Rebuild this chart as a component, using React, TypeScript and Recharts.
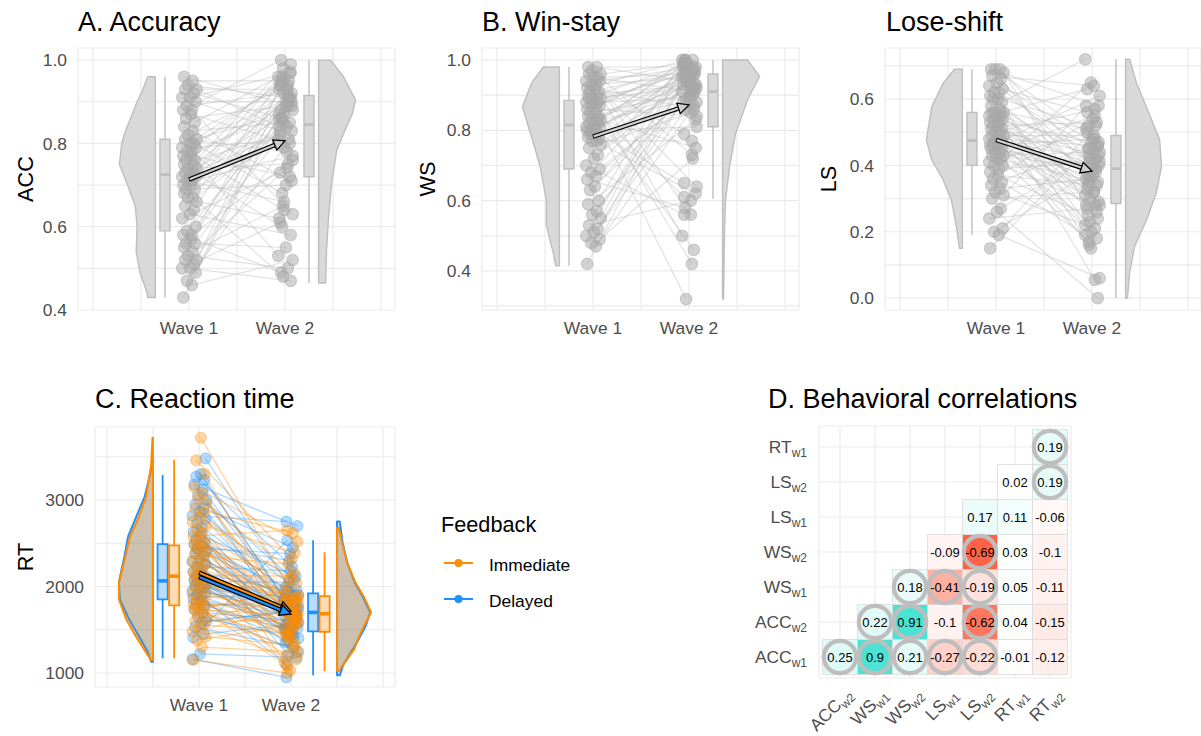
import React from 'react';
import { ComposedChart, XAxis, YAxis, CartesianGrid, Scatter, ReferenceArea, ReferenceLine } from 'recharts';

const FONT = '"Liberation Sans", Arial, Helvetica, sans-serif';
const TICK_COLOR = '#4d4d4d';
const GRID_COLOR = '#ebebeb';
const GRAY_FILL = '#d9d9d9';
const GRAY_LINE = '#bebebe';
const ORANGE = '#ff8c00';
const BLUE = '#1e90ff';

const WAVE_TICKS = [0, 0.5, 1, 1.5, 2, 2.5, 3];
const WAVE_LABELS = ['', '', 'Wave 1', '', 'Wave 2', '', ''];
// horizontal jitter of the raw points around each wave
const JITTER = [-0.06, 0.03, -0.02, 0.07, -0.07, 0.01, 0.05, -0.04, 0.08, -0.01, 0.04, -0.05, 0.06, -0.03, 0.02];

// ---- A. Accuracy
const ACC_W1 = [
  0.43, 0.46, 0.47, 0.49, 0.5, 0.5, 0.51, 0.52, 0.52, 0.53, 0.54, 0.55, 0.56, 0.56, 0.57, 0.58, 0.58, 0.59,
  0.6, 0.62, 0.63, 0.64, 0.65, 0.66, 0.67, 0.67, 0.68, 0.69, 0.69, 0.7, 0.7, 0.71, 0.71, 0.72, 0.72, 0.72,
  0.73, 0.73, 0.74, 0.74, 0.75, 0.75, 0.76, 0.76, 0.77, 0.77, 0.78, 0.78, 0.79, 0.79, 0.8, 0.8, 0.81, 0.81,
  0.82, 0.83, 0.84, 0.85, 0.86, 0.87, 0.88, 0.88, 0.89, 0.9, 0.91, 0.91, 0.92, 0.93, 0.93, 0.94, 0.95, 0.96,
];
const ACC_W2 = [
  0.88, 0.52, 0.79, 0.95, 0.61, 0.47, 0.86, 0.74, 0.93, 0.5, 0.65, 0.9, 0.81, 0.55, 0.97, 0.49, 0.76, 0.87,
  0.91, 0.73, 0.58, 0.96, 0.84, 0.62, 0.89, 0.48, 0.92, 0.8, 0.7, 0.85, 0.94, 0.77, 0.66, 0.91, 0.82, 0.99,
  0.6, 0.93, 0.86, 0.75, 0.98, 0.83, 0.53, 0.9, 0.72, 0.95, 0.88, 0.64, 0.81, 0.94, 0.91, 0.68, 0.78, 0.87,
  0.94, 0.85, 0.71, 0.96, 0.89, 0.8, 1.0, 0.63, 0.92, 0.9, 0.83, 0.97, 0.86, 0.93, 0.84, 0.91, 0.95, 0.89,
];
const ACC_VIOLIN_W1 = [[0.43, 0.08], [0.44, 0.085], [0.49, 0.16], [0.54, 0.2], [0.6, 0.19], [0.65, 0.21], [0.7, 0.29], [0.75, 0.375], [0.8, 0.35], [0.825, 0.32], [0.86, 0.26], [0.9, 0.19], [0.93, 0.13], [0.96, 0.08]];
const ACC_VIOLIN_W2 = [[0.465, 0.073], [0.544, 0.083], [0.624, 0.104], [0.704, 0.135], [0.784, 0.19], [0.84, 0.29], [0.87, 0.35], [0.904, 0.385], [0.96, 0.26], [1.0, 0.125]];
const ACC_BOX_W1 = [0.43, 0.59, 0.725, 0.81, 0.96];
const ACC_BOX_W2 = [0.465, 0.72, 0.845, 0.915, 1.0];
const ACC_MEANS = [0.713, 0.806];
const ACC_TICKS = [0.4, 0.5, 0.6, 0.7, 0.8, 0.9, 1.0];
const ACC_TICK_LABELS = ['0.4', '', '0.6', '', '0.8', '', '1.0'];

// ---- B. Win-stay
const WS_W1 = [
  0.42, 0.47, 0.48, 0.49, 0.5, 0.51, 0.52, 0.53, 0.55, 0.56, 0.57, 0.59, 0.6, 0.63, 0.64, 0.66, 0.67, 0.68,
  0.69, 0.7, 0.72, 0.73, 0.75, 0.76, 0.77, 0.77, 0.78, 0.78, 0.79, 0.79, 0.8, 0.8, 0.8, 0.81, 0.81, 0.81,
  0.82, 0.82, 0.83, 0.83, 0.83, 0.84, 0.84, 0.85, 0.85, 0.86, 0.86, 0.87, 0.87, 0.88, 0.88, 0.88, 0.89, 0.89,
  0.89, 0.9, 0.9, 0.91, 0.91, 0.92, 0.92, 0.93, 0.93, 0.94, 0.94, 0.95, 0.95, 0.96, 0.96, 0.97, 0.98, 0.98,
];
const WS_W2 = [
  0.95, 0.88, 0.97, 0.72, 0.99, 0.93, 0.86, 0.6, 0.98, 0.91, 0.94, 0.83, 1.0, 0.89, 0.96, 0.58, 0.92, 0.97,
  0.9, 0.56, 0.96, 0.99, 0.85, 0.93, 0.77, 0.98, 0.62, 0.91, 0.95, 0.87, 1.0, 0.81, 0.94, 0.97, 0.65, 0.92,
  0.32, 0.96, 0.88, 0.93, 0.99, 0.75, 0.95, 0.9, 0.46, 0.98, 0.84, 0.94, 1.0, 0.61, 0.97, 0.89, 0.92, 0.96,
  0.42, 0.99, 0.93, 0.5, 0.97, 0.86, 1.0, 0.64, 0.95, 0.98, 0.79, 0.91, 0.96, 0.56, 0.99, 0.73, 0.94, 0.98,
];
const WS_VIOLIN_W1 = [[0.415, 0.04], [0.45, 0.0625], [0.53, 0.135], [0.6, 0.135], [0.697, 0.2], [0.79, 0.3], [0.867, 0.385], [0.934, 0.29], [0.98, 0.167]];
const WS_VIOLIN_W2 = [[0.32, 0.01], [0.51, 0.02], [0.6, 0.03], [0.697, 0.073], [0.79, 0.135], [0.887, 0.26], [0.953, 0.385], [1.0, 0.26]];
const WS_BOX_W1 = [0.415, 0.69, 0.815, 0.885, 0.98];
const WS_BOX_W2 = [0.605, 0.81, 0.91, 0.96, 1.0];
const WS_MEANS = [0.782, 0.872];
const WS_TICKS = [0.3, 0.4, 0.5, 0.6, 0.7, 0.8, 0.9, 1.0];
const WS_TICK_LABELS = ['', '0.4', '', '0.6', '', '0.8', '', '1.0'];

// ---- Lose-shift
const LS_W1 = [
  0.15, 0.19, 0.2, 0.21, 0.24, 0.26, 0.27, 0.3, 0.31, 0.32, 0.33, 0.34, 0.35, 0.36, 0.37, 0.38, 0.39, 0.4,
  0.4, 0.41, 0.42, 0.42, 0.43, 0.43, 0.44, 0.44, 0.45, 0.45, 0.46, 0.46, 0.46, 0.47, 0.47, 0.47, 0.48, 0.48,
  0.48, 0.49, 0.49, 0.5, 0.5, 0.51, 0.51, 0.52, 0.52, 0.53, 0.53, 0.54, 0.54, 0.55, 0.55, 0.55, 0.56, 0.56,
  0.56, 0.57, 0.58, 0.59, 0.6, 0.6, 0.61, 0.62, 0.62, 0.63, 0.64, 0.65, 0.66, 0.67, 0.68, 0.69, 0.69, 0.69,
];
const LS_W2 = [
  0.45, 0.06, 0.38, 0.52, 0.27, 0.0, 0.43, 0.32, 0.58, 0.21, 0.36, 0.47, 0.19, 0.54, 0.34, 0.25, 0.41, 0.65,
  0.28, 0.5, 0.35, 0.17, 0.44, 0.39, 0.55, 0.23, 0.4, 0.31, 0.48, 0.26, 0.37, 0.61, 0.2, 0.42, 0.33, 0.46,
  0.16, 0.49, 0.36, 0.57, 0.3, 0.43, 0.22, 0.4, 0.53, 0.34, 0.28, 0.47, 0.38, 0.63, 0.24, 0.45, 0.32, 0.51,
  0.055, 0.42, 0.29, 0.72, 0.37, 0.18, 0.52, 0.44, 0.15, 0.39, 0.56, 0.46, 0.35, 0.64, 0.28, 0.48, 0.41, 0.58,
];
const LS_VIOLIN_W1 = [[0.15, 0.03], [0.216, 0.0625], [0.296, 0.115], [0.356, 0.2], [0.417, 0.32], [0.477, 0.375], [0.576, 0.32], [0.648, 0.2], [0.69, 0.083]];
const LS_VIOLIN_W2 = [[0.0, 0.02], [0.076, 0.042], [0.156, 0.094], [0.236, 0.22], [0.317, 0.32], [0.396, 0.375], [0.477, 0.355], [0.567, 0.23], [0.648, 0.115], [0.72, 0.042]];
const LS_BOX_W1 = [0.19, 0.4, 0.475, 0.56, 0.69];
const LS_BOX_W2 = [0.0, 0.285, 0.39, 0.49, 0.72];
const LS_MEANS = [0.477, 0.383];
const LS_TICKS = [0.0, 0.1, 0.2, 0.3, 0.4, 0.5, 0.6, 0.7];
const LS_TICK_LABELS = ['0.0', '', '0.2', '', '0.4', '', '0.6', ''];

// ---- C. Reaction time (Immediate / Delayed feedback)
const RT_IMM_W1 = [
  1150, 1300, 1380, 1420, 1480, 1520, 1560, 1600, 1640, 1680, 1700, 1730, 1750, 1770, 1790,
  1800, 1830, 1860, 1890, 1920, 1950, 1980, 2000, 2030, 2050, 2070, 2090, 2110, 2130, 2150,
  2170, 2200, 2230, 2260, 2290, 2320, 2350, 2380, 2410, 2440, 2460, 2480, 2500, 2520, 2540,
  2580, 2620, 2660, 2700, 2750, 2800, 2850, 2900, 2960, 3020, 3080, 3150, 3300, 3460, 3720,
];
const RT_IMM_W2 = [
  1000, 1240, 1550, 1320, 1720, 1160, 1460, 1610, 1850, 1280, 1390, 1670, 1940, 1490, 1780,
  1080, 1590, 1420, 1750, 1200, 1630, 2000, 1510, 1820, 1360, 1700, 1880, 1530, 2120, 1660,
  1440, 1800, 1030, 1650, 1910, 1570, 2260, 1730, 1475, 1840, 2080, 1690, 1120, 1860, 1570,
  2650, 1890, 1680, 2390, 1420, 2040, 1760, 2620, 1830, 2160, 1610, 2520, 1710, 2320, 1870,
];
const RT_DEL_W1 = [
  1160, 1220, 1450, 1530, 1600, 1650, 1700, 1740, 1780, 1810, 1840, 1860, 1880, 1900, 1930,
  1950, 1970, 1990, 2010, 2030, 2050, 2060, 2070, 2090, 2110, 2140, 2170, 2200, 2230, 2260,
  2290, 2320, 2350, 2380, 2410, 2440, 2470, 2490, 2510, 2550, 2590, 2630, 2680, 2730, 2780,
  2820, 2860, 2900, 2950, 3000, 3060, 3120, 3180, 3230, 3270, 3300, 1410, 1580, 2440, 3480,
];
const RT_DEL_W2 = [
  950, 1180, 1560, 1300, 1700, 1420, 1610, 1250, 1820, 1490, 1660, 1380, 1900, 1530, 1750,
  1100, 1640, 1470, 1780, 1350, 1690, 2050, 1520, 1860, 1440, 1720, 1950, 1580, 2180, 1620,
  1490, 1830, 1210, 1680, 1990, 1600, 2300, 1760, 1510, 1880, 2120, 1710, 1400, 1920, 1650,
  2750, 1960, 1730, 2450, 1560, 2080, 1800, 2700, 1850, 2230, 1670, 2534, 1740, 2380, 1900,
];
const RT_IMM_VIOLIN_W1 = [[1150, 0.02], [1238, 0.076], [1423, 0.185], [1619, 0.29], [1850, 0.37], [2046, 0.37], [2346, 0.3], [2577, 0.25], [2807, 0.152], [3038, 0.076], [3400, 0.02], [3720, 0.005]];
const RT_DEL_VIOLIN_W1 = [[1130, 0.02], [1250, 0.06], [1420, 0.15], [1620, 0.26], [1850, 0.36], [2050, 0.37], [2350, 0.31], [2580, 0.27], [2810, 0.18], [3040, 0.09], [3300, 0.03], [3480, 0.005]];
const RT_IMM_VIOLIN_W2 = [[1023, 0.02], [1123, 0.087], [1273, 0.185], [1423, 0.24], [1538, 0.29], [1700, 0.37], [1885, 0.29], [2046, 0.2], [2277, 0.11], [2507, 0.054], [2680, 0.02]];
const RT_DEL_VIOLIN_W2 = [[973, 0.03], [1100, 0.07], [1270, 0.17], [1420, 0.25], [1540, 0.31], [1700, 0.36], [1880, 0.28], [2050, 0.19], [2280, 0.11], [2510, 0.06], [2750, 0.03]];
const RT_IMM_BOX_W1 = [1170, 1781, 2119, 2476, 3465];
const RT_DEL_BOX_W1 = [1170, 1850, 2065, 2490, 3290];
const RT_IMM_BOX_W2 = [1023, 1477, 1685, 1888, 2396];
const RT_DEL_BOX_W2 = [973, 1481, 1700, 1920, 2534];
const RT_IMM_MEANS = [2160, 1715];
const RT_DEL_MEANS = [2110, 1680];
const RT_TICKS = [1000, 1500, 2000, 2500, 3000, 3500];
const RT_TICK_LABELS = ['1000', '', '2000', '', '3000', ''];

// ---- D. Behavioral correlations
const CORR_X_MAIN = ['ACC', 'WS', 'WS', 'LS', 'LS', 'RT', 'RT'];
const CORR_X_SUB = ['w2', 'w1', 'w2', 'w1', 'w2', 'w1', 'w2'];
const CORR_Y_MAIN = ['ACC', 'ACC', 'WS', 'WS', 'LS', 'LS', 'RT'];
const CORR_Y_SUB = ['w1', 'w2', 'w1', 'w2', 'w1', 'w2', 'w1'];
// row r holds the correlations with columns r..6
const CORR_VALUES = [
  [0.25, 0.9, 0.21, -0.27, -0.22, -0.01, -0.12],
  [0.22, 0.91, -0.1, -0.62, 0.04, -0.15],
  [0.18, -0.41, -0.19, 0.05, -0.11],
  [-0.09, -0.69, 0.03, -0.1],
  [0.17, 0.11, -0.06],
  [0.02, 0.19],
  [0.19],
];
const CORR_SIG = [
  [1, 1, 1, 1, 1, 0, 0],
  [1, 1, 0, 1, 0, 0],
  [1, 1, 1, 0, 0],
  [0, 1, 0, 0],
  [0, 0, 0],
  [0, 1],
  [1],
];
const CORR_TICKS = [0, 1, 2, 3, 4, 5, 6];

// ---------- helpers
const noShape = () => <g />;

const violinPoints = (profile: number[][], edge: number, side: number) => [
  ...profile.map(([y, w]) => ({ x: edge + side * w, y })),
  { x: edge, y: profile[profile.length - 1][0] },
  { x: edge, y: profile[0][0] },
];

const polygonLine = (fill: string, stroke: string, width: number, opacity = 1) => (p: any) => (
  <path
    d={'M' + p.points.map((q: any) => `${q.x},${q.y}`).join('L') + 'Z'}
    fill={fill}
    fillOpacity={opacity}
    stroke={stroke}
    strokeWidth={width}
    strokeLinejoin="round"
  />
);

const pairPoints = (w1: number[], w2: number[], shift: number) =>
  w1.flatMap((v, i) => [
    { x: 1 + JITTER[(i + shift) % JITTER.length], y: v },
    { x: 2 + JITTER[(i + shift + 7) % JITTER.length], y: w2[i] },
  ]);

const segmentLines = (stroke: string, opacity: number, width: number) => (p: any) => {
  const pts = p.points;
  const out = [];
  for (let i = 0; i + 1 < pts.length; i += 2) {
    out.push(
      <line key={i} x1={pts[i].x} y1={pts[i].y} x2={pts[i + 1].x} y2={pts[i + 1].y}
        stroke={stroke} strokeOpacity={opacity} strokeWidth={width} />
    );
  }
  return <g>{out}</g>;
};

const dot = (color: string, opacity: number, r = 5.5) => (props: any) => (
  <circle cx={props.cx} cy={props.cy} r={r} fill={color} fillOpacity={opacity}
    stroke={color} strokeOpacity={opacity} strokeWidth={1.1} />
);

const arrowLine = (inner: string) => (p: any) => {
  const [a, b] = p.points;
  const dx = b.x - a.x;
  const dy = b.y - a.y;
  const len = Math.hypot(dx, dy) || 1;
  const ux = dx / len;
  const uy = dy / len;
  const hl = 11;
  const hw = 5.5;
  const bx = b.x - ux * hl;
  const by = b.y - uy * hl;
  const head = `${b.x},${b.y} ${bx - uy * hw},${by + ux * hw} ${bx + uy * hw},${by - ux * hw}`;
  return (
    <g>
      <line x1={a.x} y1={a.y} x2={bx + ux} y2={by + uy} stroke="#000" strokeWidth={4.6} />
      <line x1={a.x + ux * 0.8} y1={a.y + uy * 0.8} x2={bx + ux * 2} y2={by + uy * 2} stroke={inner} strokeWidth={2.2} />
      <polygon points={head} fill={inner} stroke="#000" strokeWidth={1.3} />
    </g>
  );
};

const boxElements = (key: string, cx: number, hw: number, stats: number[], stroke: string, fill: string, sw: number) => {
  const [lo, q1, med, q3, hi] = stats;
  return [
    <ReferenceLine key={key + 'lo'} segment={[{ x: cx, y: lo }, { x: cx, y: q1 }]} stroke={stroke} strokeWidth={sw} ifOverflow="visible" />,
    <ReferenceLine key={key + 'hi'} segment={[{ x: cx, y: q3 }, { x: cx, y: hi }]} stroke={stroke} strokeWidth={sw} ifOverflow="visible" />,
    <ReferenceArea key={key + 'box'} x1={cx - hw} x2={cx + hw} y1={q1} y2={q3} fill={fill} fillOpacity={1} stroke={stroke} strokeWidth={sw} ifOverflow="visible" />,
    <ReferenceLine key={key + 'med'} segment={[{ x: cx - hw, y: med }, { x: cx + hw, y: med }]} stroke={stroke} strokeWidth={sw * 2} ifOverflow="visible" />,
  ];
};

const tickStyle = { fill: TICK_COLOR, fontSize: 17.4, fontFamily: FONT };

const mix = (c: number[], t: number) => `rgb(${c.map((ch) => Math.round(255 + (ch - 255) * t)).join(',')})`;
const corrColor = (v: number) =>
  v >= 0
    ? mix([64, 224, 208], Math.pow(Math.min(v / 0.95, 1), 1.3))
    : mix([255, 99, 71], Math.pow(Math.min(-v / 0.69, 1), 1.3));

// ---------- raincloud panel (A, B, Lose-shift)
interface RainProps {
  left: number; width: number; yAxisWidth: number; marginRight: number; xMax: number;
  yDomain: number[]; yTicks: number[]; yTickLabels: string[];
  w1: number[]; w2: number[]; violin1: number[][]; violin2: number[][];
  box1: number[]; box2: number[]; means: number[];
}

function RainPanel(p: RainProps) {
  const pairs = pairPoints(p.w1, p.w2, 0);
  return (
    <div style={{ position: 'absolute', left: p.left, top: 0 }}>
      <ComposedChart width={p.width} height={350} margin={{ top: 48, right: p.marginRight, bottom: 0, left: 0 }}>
        <CartesianGrid stroke={GRID_COLOR} strokeWidth={1.2} />
        <XAxis type="number" dataKey="x" domain={[-0.156, p.xMax]} ticks={WAVE_TICKS} interval={0}
          tickFormatter={(_v: number, i: number) => WAVE_LABELS[i]} axisLine={false} tickLine={false}
          tick={tickStyle} tickMargin={6} height={40} allowDataOverflow />
        <YAxis type="number" dataKey="y" domain={p.yDomain} ticks={p.yTicks} interval={0}
          tickFormatter={(_v: number, i: number) => p.yTickLabels[i]} axisLine={false} tickLine={false}
          tick={tickStyle} tickMargin={5} width={p.yAxisWidth} allowDataOverflow />
        <Scatter data={violinPoints(p.violin1, 0.65, -1)} dataKey="y" shape={noShape}
          line={polygonLine(GRAY_FILL, GRAY_LINE, 1.4)} isAnimationActive={false} />
        <Scatter data={violinPoints(p.violin2, 2.35, 1)} dataKey="y" shape={noShape}
          line={polygonLine(GRAY_FILL, GRAY_LINE, 1.4)} isAnimationActive={false} />
        {boxElements('b1', 0.75, 0.052, p.box1, GRAY_LINE, GRAY_FILL, 1.4)}
        {boxElements('b2', 2.25, 0.052, p.box2, GRAY_LINE, GRAY_FILL, 1.4)}
        <Scatter data={pairs} dataKey="y" shape={noShape} line={segmentLines('#bdbdbd', 0.45, 1.2)} isAnimationActive={false} />
        <Scatter data={pairs} dataKey="y" shape={dot('#a8a8a8', 0.5, 5.8)} isAnimationActive={false} />
        <Scatter data={[{ x: 1, y: p.means[0] }, { x: 2, y: p.means[1] }]} dataKey="y" shape={noShape}
          line={arrowLine('#d0d0d0')} isAnimationActive={false} />
      </ComposedChart>
    </div>
  );
}

function ReactionPanel() {
  const immPairs = pairPoints(RT_IMM_W1, RT_IMM_W2, 0);
  const delPairs = pairPoints(RT_DEL_W1, RT_DEL_W2, 4);
  return (
    <div style={{ position: 'absolute', left: 0, top: 370 }}>
      <ComposedChart width={400} height={357} margin={{ top: 57, right: 5, bottom: 0, left: 0 }}>
        <CartesianGrid stroke={GRID_COLOR} strokeWidth={1.2} />
        <XAxis type="number" dataKey="x" domain={[-0.13, 3.13]} ticks={WAVE_TICKS} interval={0}
          tickFormatter={(_v: number, i: number) => WAVE_LABELS[i]} axisLine={false} tickLine={false}
          tick={tickStyle} tickMargin={6} height={40} allowDataOverflow />
        <YAxis type="number" dataKey="y" domain={[838, 3844]} ticks={RT_TICKS} interval={0}
          tickFormatter={(_v: number, i: number) => RT_TICK_LABELS[i]} axisLine={false} tickLine={false}
          tick={tickStyle} tickMargin={5} width={95} allowDataOverflow />
        <Scatter data={violinPoints(RT_DEL_VIOLIN_W1, 0.5, -1)} dataKey="y" shape={noShape}
          line={polygonLine('#9c8462', BLUE, 2, 0.3)} isAnimationActive={false} />
        <Scatter data={violinPoints(RT_IMM_VIOLIN_W1, 0.5, -1)} dataKey="y" shape={noShape}
          line={polygonLine('#9c8462', ORANGE, 2, 0.3)} isAnimationActive={false} />
        <Scatter data={violinPoints(RT_DEL_VIOLIN_W2, 2.5, 1)} dataKey="y" shape={noShape}
          line={polygonLine('#9c8462', BLUE, 2, 0.3)} isAnimationActive={false} />
        <Scatter data={violinPoints(RT_IMM_VIOLIN_W2, 2.5, 1)} dataKey="y" shape={noShape}
          line={polygonLine('#9c8462', ORANGE, 2, 0.3)} isAnimationActive={false} />
        {boxElements('d1', 0.605, 0.055, RT_DEL_BOX_W1, BLUE, '#b9dcff', 1.8)}
        {boxElements('i1', 0.73, 0.055, RT_IMM_BOX_W1, ORANGE, '#ffdcb4', 1.8)}
        {boxElements('d2', 2.24, 0.055, RT_DEL_BOX_W2, BLUE, '#b9dcff', 1.8)}
        {boxElements('i2', 2.365, 0.055, RT_IMM_BOX_W2, ORANGE, '#ffdcb4', 1.8)}
        <Scatter data={delPairs} dataKey="y" shape={noShape} line={segmentLines(BLUE, 0.35, 1.3)} isAnimationActive={false} />
        <Scatter data={immPairs} dataKey="y" shape={noShape} line={segmentLines(ORANGE, 0.38, 1.3)} isAnimationActive={false} />
        <Scatter data={delPairs} dataKey="y" shape={dot(BLUE, 0.32)} isAnimationActive={false} />
        <Scatter data={immPairs} dataKey="y" shape={dot(ORANGE, 0.35)} isAnimationActive={false} />
        <Scatter data={[{ x: 1, y: RT_IMM_MEANS[0] }, { x: 2, y: RT_IMM_MEANS[1] }]} dataKey="y" shape={noShape}
          line={arrowLine(ORANGE)} isAnimationActive={false} />
        <Scatter data={[{ x: 1, y: RT_DEL_MEANS[0] }, { x: 2, y: RT_DEL_MEANS[1] }]} dataKey="y" shape={noShape}
          line={arrowLine(BLUE)} isAnimationActive={false} />
      </ComposedChart>
    </div>
  );
}

const CorrYTick = (props: any) => {
  const { x, y, payload } = props;
  const i = Math.round(payload.value);
  return (
    <text x={x} y={y} dy="0.35em" textAnchor="end" fill={TICK_COLOR} fontSize={17.4} fontFamily={FONT}>
      <tspan>{CORR_Y_MAIN[i]}</tspan>
      <tspan fontSize={12} dy={4}>{CORR_Y_SUB[i]}</tspan>
    </text>
  );
};

const CorrXTick = (props: any) => {
  const { x, y, payload } = props;
  const i = Math.round(payload.value);
  return (
    <g transform={`translate(${x + 5},${y + 1})`}>
      <text transform="rotate(-45)" textAnchor="end" dy={12} fill={TICK_COLOR} fontSize={17.4} fontFamily={FONT}>
        <tspan>{CORR_X_MAIN[i]}</tspan>
        <tspan fontSize={12} dy={4}>{CORR_X_SUB[i]}</tspan>
      </text>
    </g>
  );
};

function CorrelationPanel() {
  const cells = CORR_VALUES.flatMap((row, r) => row.map((v, k) => ({ x: r + k, y: r, v, sig: CORR_SIG[r][k] })));
  const sigCells = cells.filter((c) => c.sig === 1);
  return (
    <div style={{ position: 'absolute', left: 740, top: 380 }}>
      <ComposedChart width={336} height={356} margin={{ top: 46, right: 5, bottom: 0, left: 0 }}>
        <CartesianGrid stroke={GRID_COLOR} strokeWidth={1.2} />
        <XAxis type="number" dataKey="x" domain={[-0.6, 6.6]} ticks={CORR_TICKS} interval={0}
          axisLine={false} tickLine={false} tick={<CorrXTick />} height={58} allowDataOverflow />
        <YAxis type="number" dataKey="y" domain={[-0.6, 6.6]} ticks={CORR_TICKS} interval={0}
          axisLine={false} tickLine={false} tick={<CorrYTick />} tickMargin={6} width={79} allowDataOverflow />
        {cells.map((c) => (
          <ReferenceArea key={`t${c.x}-${c.y}`} x1={c.x - 0.5} x2={c.x + 0.5} y1={c.y - 0.5} y2={c.y + 0.5}
            fill={corrColor(c.v)} fillOpacity={1} stroke="#dadada" strokeWidth={0.8} ifOverflow="visible" />
        ))}
        <Scatter data={sigCells} dataKey="y" isAnimationActive={false}
          shape={(s: any) => (
            <circle cx={s.cx} cy={s.cy} r={16.2} fill={corrColor(s.payload.v)} stroke="#bebebe" strokeWidth={4.2} />
          )} />
        <Scatter data={cells} dataKey="y" isAnimationActive={false}
          shape={(s: any) => (
            <text x={s.cx} y={s.cy} dy="0.35em" textAnchor="middle" fontSize={13} fontFamily={FONT} fill="#000">
              {String(s.payload.v)}
            </text>
          )} />
      </ComposedChart>
    </div>
  );
}

export default function App() {
  const titleStyle = { fontSize: 27, fontFamily: FONT, fill: '#000' };
  const axisTitle = { fontSize: 21.7, fontFamily: FONT, fill: '#000' };
  return (
    <div style={{ position: 'absolute', left: 0, top: 0, width: 1201, height: 736, background: '#fff', overflow: 'hidden' }}>
      <RainPanel left={0} width={400} yAxisWidth={78} marginRight={5} xMax={3.146}
        yDomain={[0.4, 1.029]} yTicks={ACC_TICKS} yTickLabels={ACC_TICK_LABELS}
        w1={ACC_W1} w2={ACC_W2} violin1={ACC_VIOLIN_W1} violin2={ACC_VIOLIN_W2}
        box1={ACC_BOX_W1} box2={ACC_BOX_W2} means={ACC_MEANS} />
      <RainPanel left={400} width={400} yAxisWidth={82} marginRight={1} xMax={3.146}
        yDomain={[0.289, 1.034]} yTicks={WS_TICKS} yTickLabels={WS_TICK_LABELS}
        w1={WS_W1} w2={WS_W2} violin1={WS_VIOLIN_W1} violin2={WS_VIOLIN_W2}
        box1={WS_BOX_W1} box2={WS_BOX_W2} means={WS_MEANS} />
      <RainPanel left={800} width={401} yAxisWidth={85} marginRight={0} xMax={3.136}
        yDomain={[-0.036, 0.754]} yTicks={LS_TICKS} yTickLabels={LS_TICK_LABELS}
        w1={LS_W1} w2={LS_W2} violin1={LS_VIOLIN_W1} violin2={LS_VIOLIN_W2}
        box1={LS_BOX_W1} box2={LS_BOX_W2} means={LS_MEANS} />
      <ReactionPanel />
      <CorrelationPanel />
      <svg width={1201} height={736} style={{ position: 'absolute', left: 0, top: 0, pointerEvents: 'none' }}>
        <text x={78} y={30.7} {...titleStyle}>A. Accuracy</text>
        <text x={482} y={30.7} {...titleStyle}>B. Win-stay</text>
        <text x={886} y={30.7} {...titleStyle}>Lose-shift</text>
        <text x={95} y={408} {...titleStyle}>C. Reaction time</text>
        <text x={768} y={407.7} {...titleStyle}>D. Behavioral correlations</text>
        <text transform="translate(25,179) rotate(-90)" textAnchor="middle" dy="0.35em" {...axisTitle}>ACC</text>
        <text transform="translate(427,179) rotate(-90)" textAnchor="middle" dy="0.35em" {...axisTitle}>WS</text>
        <text transform="translate(828,179) rotate(-90)" textAnchor="middle" dy="0.35em" {...axisTitle}>LS</text>
        <text transform="translate(25,557) rotate(-90)" textAnchor="middle" dy="0.35em" {...axisTitle}>RT</text>
        <text x={441} y={532} {...axisTitle}>Feedback</text>
        <line x1={444} y1={563} x2={473} y2={563} stroke={ORANGE} strokeWidth={2} />
        <circle cx={458.5} cy={563} r={4} fill={ORANGE} />
        <text x={489} y={571} fontSize={17.4} fontFamily={FONT} fill="#000">Immediate</text>
        <line x1={444} y1={599} x2={473} y2={599} stroke={BLUE} strokeWidth={2} />
        <circle cx={458.5} cy={599} r={4} fill={BLUE} />
        <text x={489} y={607} fontSize={17.4} fontFamily={FONT} fill="#000">Delayed</text>
      </svg>
    </div>
  );
}
